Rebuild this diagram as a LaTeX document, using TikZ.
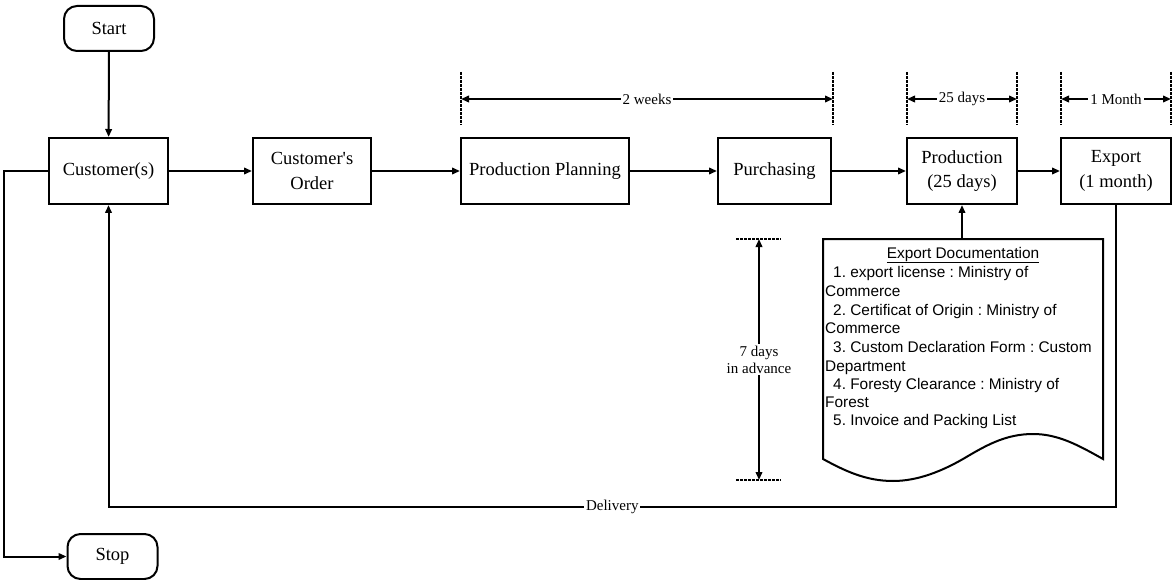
\documentclass[tikz,border=0pt]{standalone}
\usepackage{fontspec}
\setmainfont{Liberation Serif}[Ligatures=TeXOff]
\newfontfamily\docfont{Liberation Sans}
\usetikzlibrary{arrows.meta}
\frenchspacing

\tikzset{
  proc/.style={draw, line width=2pt, minimum height=66pt, align=center,
    inner sep=2pt, font=\fontsize{18.5}{24.5}\selectfont},
  term/.style={draw, line width=2pt, rounded corners=13pt, minimum width=90pt,
    minimum height=45pt, font=\fontsize{18.5}{24}\selectfont},
  flow/.style={line width=2pt, -{Triangle[length=8pt,width=6.5pt]}},
  span/.style={line width=2pt, {Triangle[length=8pt,width=6.5pt]}-{Triangle[length=8pt,width=6.5pt]}},
  tick/.style={line width=1.6pt, dash pattern=on 3pt off 1pt},
  lbl/.style={fill=white, inner sep=2pt, align=center, font=\fontsize{15}{17}\selectfont},
  doctext/.style={anchor=base west, inner sep=0pt, font=\docfont\fontsize{15.4}{18.5}\selectfont},
  paper/.style={draw, line width=2pt, fill=white},
}

\begin{document}
\begin{tikzpicture}[x=1pt, y=-1pt]
\useasboundingbox (0,0) rectangle (1172,580);

% terminals
\node[term] (start) at (109,28.5) {Start};
\node[term] (stop) at (112.5,556.5) {Stop};

% process steps
\node[proc, minimum width=119pt] (cust)   at (108.5,171) {Customer(s)};
\node[proc, minimum width=118pt] (order)  at (312,171)   {Customer's\\Order};
\node[proc, minimum width=168pt] (plan)   at (545,171)   {Production Planning};
\node[proc, minimum width=113pt] (purch)  at (774.5,171) {Purchasing};
\node[proc, minimum width=110pt] (prod)   at (962,171)   {Production\\(25 days)};
\node[proc, minimum width=110pt] (export) at (1116,171)  {Export\\(1 month)};

% main flow
\draw[flow] (start) -- (cust);
\draw[flow] (cust) -- (order);
\draw[flow] (order) -- (plan);
\draw[flow] (plan) -- (purch);
\draw[flow] (purch) -- (prod);
\draw[flow] (prod) -- (export);

% exit to stop
\coordinate (leftx) at (4,0);
\draw[flow] (cust.west) -- (cust.west -| leftx) |- (stop.west);

% delivery loop back to the customer
\coordinate (dly) at (0,507);
\draw[flow] (export.south) -- (export.south |- dly)
  -- node[lbl] {Delivery} (cust.south |- dly) -- (cust.south);

% export documentation sheet
\draw[paper] (823,239) -- (1103,239) -- (1103,459)
  .. controls (1078,445) and (1058,434) .. (1033,434)
  .. controls (1005,434) and (985,446) .. (963,459)
  .. controls (942,471) and (918,481) .. (893,481)
  .. controls (866,481) and (845,471) .. (823,459) -- cycle;
\coordinate (doctop) at (962,239);
\draw[flow] (doctop) -- (prod.south);

\node[doctext, anchor=base] (dhead) at (963,258) {\underline{Export Documentation}};
\node[doctext] (d1) at (833,277) {1. export license : Ministry of};
\node[doctext] (d2) at (825,296) {Commerce};
\node[doctext] (d3) at (833,315) {2. Certificat of Origin : Ministry of};
\node[doctext] (d4) at (825,333) {Commerce};
\node[doctext] (d5) at (833,352) {3. Custom Declaration Form : Custom};
\node[doctext] (d6) at (825,371) {Department};
\node[doctext] (d7) at (833,389) {4. Foresty Clearance : Ministry of};
\node[doctext] (d8) at (825,407) {Forest};
\node[doctext] (d9) at (833,425) {5. Invoice and Packing List};

% time spans
\draw[tick] (461,72) -- (461,125);
\draw[tick] (833,72) -- (833,125);
\coordinate (wkA) at (461,99);
\coordinate (wkB) at (833,99);
\draw[span] (wkA) -- node[lbl] {2 weeks} (wkB);

\draw[tick] (907,72) -- (907,125);
\draw[tick] (1017,72) -- (1017,125);
\coordinate (dyA) at (907,99);
\coordinate (dyB) at (1017,99);
\draw[span] (dyA) -- node[lbl] {25 days} (dyB);

\draw[tick] (1061,72) -- (1061,125);
\draw[tick] (1171,72) -- (1171,125);
\coordinate (moA) at (1061,99);
\coordinate (moB) at (1171,99);
\draw[span] (moA) -- node[lbl] {1 Month} (moB);

\draw[tick] (736,239) -- (781,239);
\draw[tick] (736,480) -- (781,480);
\coordinate (svA) at (759,239);
\coordinate (svB) at (759,480);
\draw[span] (svA) -- node[lbl] {7 days\\in advance} (svB);
\end{tikzpicture}
\end{document}
